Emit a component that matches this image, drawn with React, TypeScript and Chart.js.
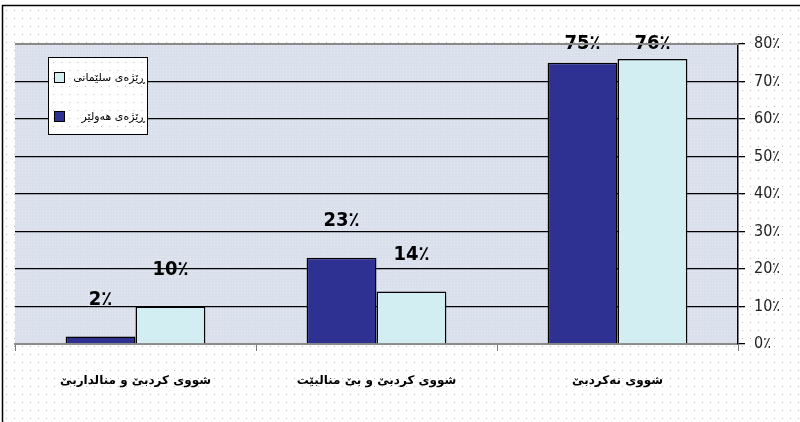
import React, { useEffect, useRef } from "react";
import { Chart, registerables } from "chart.js";

Chart.register(...registerables);

const categories = ["شووی کردبێ و منالداربێ", "شووی کردبێ و بێ منالبێت", "شووی نەکردبێ"];
const erbilLabel = "ڕێژەی هەولێر";
const sulaimaniLabel = "ڕێژەی سلێمانی";
const erbilValues = [2, 23, 75];
const sulaimaniValues = [10, 14, 76];
const yTicks = [0, 10, 20, 30, 40, 50, 60, 70, 80];

const DARK = "#2f3192";
const LIGHT = "#d3eef3";
const PLOT_BG = "#d9e0eb";

const backgroundPlugin = {
  id: "bgPlugin",
  beforeDraw(chart: any) {
    const { ctx, chartArea } = chart;
    const w = chart.width;
    const h = chart.height;
    ctx.save();
    ctx.fillStyle = "#ffffff";
    ctx.fillRect(0, 0, w, h);
    ctx.fillStyle = "#b8b8b8";
    for (let y = 10; y < h; y += 8) {
      for (let x = 6; x < w; x += 8) {
        ctx.fillRect(x, y, 1, 1);
      }
    }
    ctx.fillStyle = PLOT_BG;
    ctx.fillRect(chartArea.left, chartArea.top, chartArea.right - chartArea.left, chartArea.bottom - chartArea.top);
    ctx.fillStyle = "rgba(255,255,255,0.35)";
    for (let y = chartArea.top + 2; y < chartArea.bottom; y += 3) {
      for (let x = chartArea.left + ((y / 3) % 2 ? 1 : 0); x < chartArea.right; x += 3) {
        ctx.fillRect(x, y, 1, 1);
      }
    }
    ctx.strokeStyle = "#000";
    ctx.lineWidth = 1.5;
    ctx.beginPath();
    ctx.moveTo(2.5, h);
    ctx.lineTo(2.5, 5.5);
    ctx.lineTo(w, 5.5);
    ctx.stroke();
    ctx.restore();
  },
  afterDraw(chart: any) {
    const { ctx, chartArea } = chart;
    ctx.save();
    ctx.strokeStyle = "#8a8a8a";
    ctx.lineWidth = 2;
    ctx.beginPath();
    ctx.moveTo(chartArea.left, chartArea.top);
    ctx.lineTo(chartArea.right, chartArea.top);
    ctx.stroke();
    const lx = 48.5, ly = 57.5, lw = 99, lh = 77;
    ctx.fillStyle = "#ffffff";
    ctx.fillRect(lx, ly, lw, lh);
    ctx.fillStyle = "#c0c0c0";
    for (let y = ly + 4; y < ly + lh; y += 8) {
      for (let x = lx + 4; x < lx + lw; x += 8) ctx.fillRect(Math.round(x), Math.round(y), 1, 1);
    }
    ctx.strokeStyle = "#000";
    ctx.lineWidth = 1;
    ctx.strokeRect(lx, ly, lw, lh);
    const items = [
      { label: sulaimaniLabel, color: LIGHT, y: 77 },
      { label: erbilLabel, color: DARK, y: 116 },
    ];
    ctx.font = "11px 'DejaVu Sans'";
    ctx.textBaseline = "middle";
    ctx.direction = "rtl";
    items.forEach((it) => {
      ctx.fillStyle = it.color;
      ctx.fillRect(54.5, it.y - 4.5, 10, 10);
      ctx.strokeStyle = "#000";
      ctx.strokeRect(54.5, it.y - 4.5, 10, 10);
      ctx.fillStyle = "#000";
      ctx.textAlign = "right";
      ctx.fillText(it.label, 145, it.y + 1);
    });
    ctx.restore();
  },
};

const valueLabelPlugin = {
  id: "valueLabels",
  afterDatasetsDraw(chart: any) {
    const { ctx, chartArea } = chart;
    ctx.save();
    ctx.font = "bold 20px 'Liberation Sans Narrow', 'DejaVu Sans Condensed', sans-serif";
    ctx.fillStyle = "#000";
    ctx.textAlign = "center";
    ctx.textBaseline = "middle";
    chart.data.datasets.forEach((ds: any, di: number) => {
      const meta = chart.getDatasetMeta(di);
      meta.data.forEach((el: any, i: number) => {
        const y = Math.max(el.y - 37, chartArea.top);
        ctx.fillText(String(ds.data[i]) + "٪", el.x, y);
      });
    });
    ctx.restore();
  },
};

export default function App() {
  const ref = useRef<HTMLCanvasElement | null>(null);
  useEffect(() => {
    if (!ref.current) return;
    const chart = new Chart(ref.current, {
      type: "bar",
      data: {
        labels: categories,
        datasets: [
          {
            label: erbilLabel,
            data: erbilValues,
            backgroundColor: DARK,
            borderColor: "#000",
            borderWidth: 1.5,
            categoryPercentage: 0.58,
            barPercentage: 1,
          },
          {
            label: sulaimaniLabel,
            data: sulaimaniValues,
            backgroundColor: LIGHT,
            borderColor: "#000",
            borderWidth: 1.5,
            categoryPercentage: 0.58,
            barPercentage: 1,
          },
        ],
      },
      options: {
        responsive: false,
        animation: false,
        devicePixelRatio: 1,
        layout: { padding: { left: 15, top: 44, right: 0, bottom: 0 } },
        plugins: {
          legend: { display: false },
          tooltip: { enabled: false },
        },
        scales: {
          x: {
            grid: {
              display: true,
              drawOnChartArea: false,
              drawTicks: true,
              tickLength: 7,
              color: "#7a7a7a",
            },
            border: { display: true, color: "#8a8a8a", width: 2 },
            ticks: {
              color: "#000",
              font: { family: "'DejaVu Sans'", size: 12, weight: "bold" },
              padding: 23,
              maxRotation: 0,
            },
            afterFit(scale: any) {
              scale.height = 422 - 344;
            },
          },
          y: {
            position: "right",
            min: 0,
            max: 80,
            afterBuildTicks(scale: any) {
              scale.ticks = yTicks.map((v) => ({ value: v }));
            },
            grid: {
              color: "#000",
              lineWidth: 1.3,
              tickLength: 7,
              drawTicks: true,
            },
            border: { display: true, color: "#000", width: 1.5 },
            ticks: {
              color: "#222",
              font: { family: "'Liberation Sans Narrow', 'DejaVu Sans Condensed', sans-serif", size: 16 },
              padding: 9,
              callback: (v: any) => String(v) + "٪",
            },
            afterFit(scale: any) {
              scale.width = 800 - 738;
            },
          },
        },
      },
      plugins: [backgroundPlugin, valueLabelPlugin],
    });
    return () => chart.destroy();
  }, []);
  return (
    <div style={{ position: "fixed", left: 0, top: 0, width: 800, height: 422 }}>
      <canvas ref={ref} width={800} height={422} style={{ width: 800, height: 422, display: "block" }} />
    </div>
  );
}
